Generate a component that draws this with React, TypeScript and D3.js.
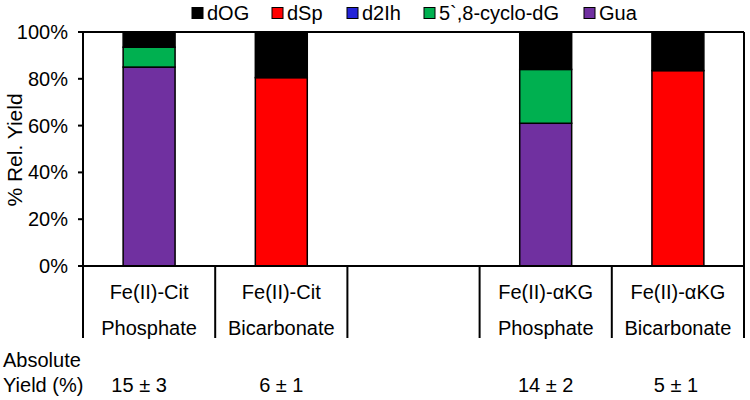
import React from "react";
import * as d3 from "d3";

const categories = ["citP", "citB", "gap", "akgP", "akgB"];
const labelLine1 = ["Fe(II)-Cit", "Fe(II)-Cit", "", "Fe(II)-\u03b1KG", "Fe(II)-\u03b1KG"];
const labelLine2 = ["Phosphate", "Bicarbonate", "", "Phosphate", "Bicarbonate"];
const absYield = ["15 \u00b1 3", "6 \u00b1 1", "", "14 \u00b1 2", "5 \u00b1 1"];

const seriesNames = ["Gua", "5`,8-cyclo-dG", "d2Ih", "dSp", "dOG"];
const gua = [85, 0, 0, 61, 0];
const cyclo = [8.5, 0, 0, 23, 0];
const d2ih = [0, 0, 0, 0, 0];
const dsp = [0, 80.5, 0, 0, 83.5];
const dog = [6.5, 19.5, 0, 16, 16.5];
const legendOrder = ["dOG", "dSp", "d2Ih", "5`,8-cyclo-dG", "Gua"];
const yTicks = [0, 20, 40, 60, 80, 100];

const colors: Record<string, string> = {
  dOG: "#000000",
  dSp: "#FF0000",
  d2Ih: "#2424D8",
  "5`,8-cyclo-dG": "#00B050",
  Gua: "#7030A0",
};

export default function App() {
  const W = 750, H = 400;
  const left = 83, right = 744, top = 32, bottom = 266;
  const font = "'Liberation Sans', Arial, sans-serif";
  const fs = 20;

  const x = d3.scaleBand<string>().domain(categories).range([left, right]).paddingInner(0.607).paddingOuter(0.3035);
  const y = d3.scaleLinear().domain([0, 100]).range([bottom, top]);

  const rows = categories.map((c, i) => ({
    cat: c,
    Gua: gua[i],
    "5`,8-cyclo-dG": cyclo[i],
    d2Ih: d2ih[i],
    dSp: dsp[i],
    dOG: dog[i],
  }));
  const stacked = d3.stack<any>().keys(seriesNames)(rows);

  const step = x.step();
  const separators = categories.map((_, i) => left + i * step).concat([right]);

  const legendX = [192, 272, 347, 424, 584];
  const yieldDx = [-10, 0, 0, 0, -2];

  return (
    <svg width={W} height={H} style={{ position: "absolute", left: 0, top: 0, background: "#fff" }} fontFamily={font}>
      {/* legend */}
      {legendOrder.map((name, i) => (
        <g key={name} transform={`translate(${legendX[i]},13)`}>
          <rect x={0} y={-5.5} width={11} height={11} fill={colors[name]} stroke="#000" strokeWidth={1} />
          <text x={15} y={0} dy="0.35em" fontSize={fs} fill="#000">{name}</text>
        </g>
      ))}

      {/* bars */}
      {stacked.map((s) => (
        <g key={s.key}>
          {s.map((d, i) => {
            const h = y(d[0]) - y(d[1]);
            if (h <= 0) return null;
            return (
              <rect
                key={i}
                x={x(categories[i])!}
                y={y(d[1])}
                width={x.bandwidth()}
                height={h}
                fill={colors[s.key]}
                stroke="#000"
                strokeWidth={1.5}
              />
            );
          })}
        </g>
      ))}

      {/* frame */}
      <line x1={left} x2={right} y1={top} y2={top} stroke="#000" strokeWidth={2} />
      <line x1={right} x2={right} y1={top} y2={bottom} stroke="#000" strokeWidth={2} />
      <line x1={left} x2={right} y1={bottom} y2={bottom} stroke="#000" strokeWidth={2} />
      <line x1={left} x2={left} y1={top} y2={bottom} stroke="#000" strokeWidth={2} />

      {/* y ticks */}
      {yTicks.map((t) => (
        <g key={t}>
          <line x1={left - 5} x2={left} y1={y(t)} y2={y(t)} stroke="#000" strokeWidth={2} />
          <text x={left - 15} y={y(t)} dy="0.35em" textAnchor="end" fontSize={fs} fill="#000">{t}%</text>
        </g>
      ))}
      <text
        transform={`translate(15,150) rotate(-90)`}
        textAnchor="middle"
        dy="0.35em"
        fontSize={21}
        fill="#000"
      >% Rel. Yield</text>

      {/* category separators */}
      {separators.map((sx, i) => (
        <line key={i} x1={sx} x2={sx} y1={bottom} y2={338} stroke="#000" strokeWidth={2} />
      ))}

      {/* category labels */}
      {categories.map((c, i) => {
        const cx = x(c)! + x.bandwidth() / 2;
        return (
          <g key={c}>
            <text x={cx} y={292} dy="0.35em" textAnchor="middle" fontSize={fs} fill="#000">{labelLine1[i]}</text>
            <text x={cx} y={328} dy="0.35em" textAnchor="middle" fontSize={fs} fill="#000">{labelLine2[i]}</text>
            <text x={cx + yieldDx[i]} y={385} dy="0.35em" textAnchor="middle" fontSize={fs} fill="#000">{absYield[i]}</text>
          </g>
        );
      })}

      <text x={3} y={360} dy="0.35em" fontSize={fs} fill="#000">Absolute</text>
      <text x={3} y={385} dy="0.35em" fontSize={fs} fill="#000">Yield (%)</text>
    </svg>
  );
}
